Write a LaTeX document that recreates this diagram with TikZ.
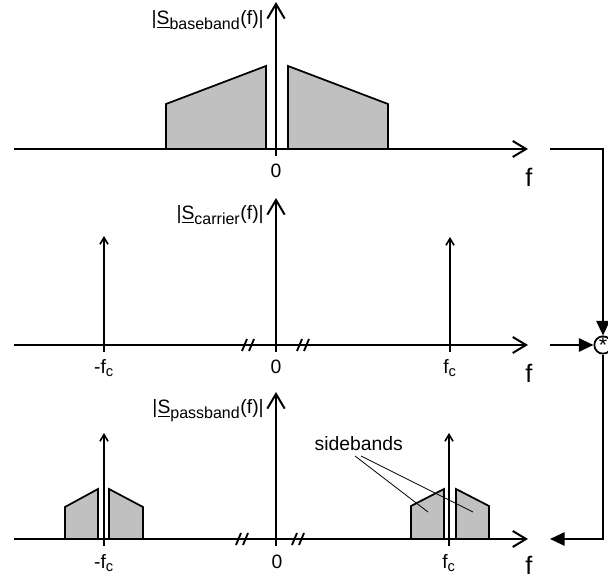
\documentclass[tikz,border=0pt]{standalone}
\usepackage{fontspec}
\setmainfont{Liberation Sans}
\usetikzlibrary{arrows.meta}
\begin{document}
\begin{tikzpicture}[x=0.75pt,y={(0,-0.75pt)},
  axisline/.style={line width=1.5pt,-{Straight Barb[length=10pt,width=12pt]}},
  vaxis/.style={line width=1.5pt,-{Straight Barb[length=11pt,width=13pt]}},
  impulse/.style={line width=1.2pt,-{Straight Barb[length=5pt,width=6pt]}},
  band/.style={line width=1.3pt,fill={rgb,255:red,192;green,192;blue,192},line join=miter},
  brk/.style={line width=1.4pt},
  fb/.style={line width=1.5pt},
  fbarrow/.style={line width=1.5pt,-{Triangle[length=11pt,width=10pt]}},
  lbl/.style={font=\fontsize{14.5}{16}\selectfont,inner sep=0pt},
  flbl/.style={font=\fontsize{19}{21}\selectfont,inner sep=0pt},
  pointer/.style={line width=0.6pt},
  mult/.style={circle,draw,line width=1.3pt,minimum size=13pt,inner sep=0pt,fill=white,font=\fontsize{16}{16}\selectfont}
]
\useasboundingbox (0,0) rectangle (608,580);

% ---------- top: baseband ----------
\draw[band] (166,149) -- (166,104) -- (266,66) -- (266,149);
\draw[band] (288,149) -- (288,66) -- (388,104) -- (388,149);
\coordinate (a1s) at (14,149);
\coordinate (a1e) at (528,149);
\coordinate (v1s) at (276,156);
\coordinate (v1e) at (276,2);
\draw[axisline] (a1s) -- (a1e);
\draw[vaxis] (v1s) -- (v1e);
\node[lbl,anchor=base east] (l1) at (264,25) {|\underline{S}\textsubscript{\fontsize{12}{12}\selectfont baseband}(f)|};
\node[lbl,anchor=base] (z1) at (276,178) {0};
\node[flbl,anchor=base] (f1) at (529,187) {f};

% ---------- middle: carrier ----------
\coordinate (a2s) at (14,345);
\coordinate (a2e) at (528,345);
\coordinate (v2s) at (276,352);
\coordinate (v2e) at (276,198);
\draw[axisline] (a2s) -- (a2e);
\draw[vaxis] (v2s) -- (v2e);
\coordinate (i2as) at (104,352);
\coordinate (i2ae) at (104,236);
\coordinate (i2bs) at (450,352);
\coordinate (i2be) at (450,237);
\draw[impulse] (i2as) -- (i2ae);
\draw[impulse] (i2bs) -- (i2be);
\node[lbl,anchor=base east] (l2) at (264,220) {|\underline{S}\textsubscript{\fontsize{12}{12}\selectfont carrier}(f)|};
\node[lbl,anchor=base] (z2) at (276,374) {0};
\node[lbl,anchor=base] (m2) at (104,374) {-f\textsubscript{\fontsize{11}{12}\selectfont c}};
\node[lbl,anchor=base] (p2) at (450,374) {f\textsubscript{\fontsize{11}{12}\selectfont c}};
\node[flbl,anchor=base] (f2) at (529,383) {f};

% ---------- bottom: passband ----------
\draw[band] (65,539) -- (65,507) -- (98,489) -- (98,539);
\draw[band] (109,539) -- (109,489) -- (143,507) -- (143,539);
\draw[band] (411,539) -- (411,506) -- (444,489) -- (444,539);
\draw[band] (456,539) -- (456,489) -- (489,506) -- (489,539);
\coordinate (a3s) at (14,539);
\coordinate (a3e) at (528,539);
\coordinate (v3s) at (276,546);
\coordinate (v3e) at (276,392);
\draw[axisline] (a3s) -- (a3e);
\draw[vaxis] (v3s) -- (v3e);
\coordinate (i3as) at (104,546);
\coordinate (i3ae) at (104,433);
\coordinate (i3bs) at (449,546);
\coordinate (i3be) at (449,433);
\draw[impulse] (i3as) -- (i3ae);
\draw[impulse] (i3bs) -- (i3be);
\node[lbl,anchor=base east] (l3) at (264,414) {|\underline{S}\textsubscript{\fontsize{12}{12}\selectfont passband}(f)|};
\node[lbl,anchor=base] (z3) at (277,569) {0};
\node[lbl,anchor=base] (m3) at (104,569) {-f\textsubscript{\fontsize{11}{12}\selectfont c}};
\node[lbl,anchor=base] (p3) at (449,569) {f\textsubscript{\fontsize{11}{12}\selectfont c}};
\node[flbl,anchor=base] (f3) at (529,575) {f};

% sidebands label
\node[lbl,anchor=base east] (sb) at (403,451) {sidebands};
\coordinate (sbA) at (355,456);
\coordinate (sbB) at (361,456);
\coordinate (sbAe) at (428,512);
\coordinate (sbBe) at (473,512);
\draw[pointer] (sbA) -- (sbAe);
\draw[pointer] (sbB) -- (sbBe);

% axis breaks
\foreach \xb/\yb in {248/345,303/345,242/539,298/539}{
  \draw[brk] (\xb-6,\yb+6) -- (\xb-1,\yb-6);
  \draw[brk] (\xb+1,\yb+6) -- (\xb+6,\yb-6);
}

% ---------- feedback / multiplier ----------
\node[mult] (mul) at (603,345) {*};
\coordinate (t1) at (550,149);
\coordinate (t2) at (550,345);
\coordinate (t3) at (550,539);
\draw[fbarrow] (t1) -- (603,149) -- (mul.north);
\draw[fbarrow] (t2) -- (mul.west);
\draw[fbarrow] (mul.south) -- (603,539) -- (t3);
\end{tikzpicture}
\end{document}
